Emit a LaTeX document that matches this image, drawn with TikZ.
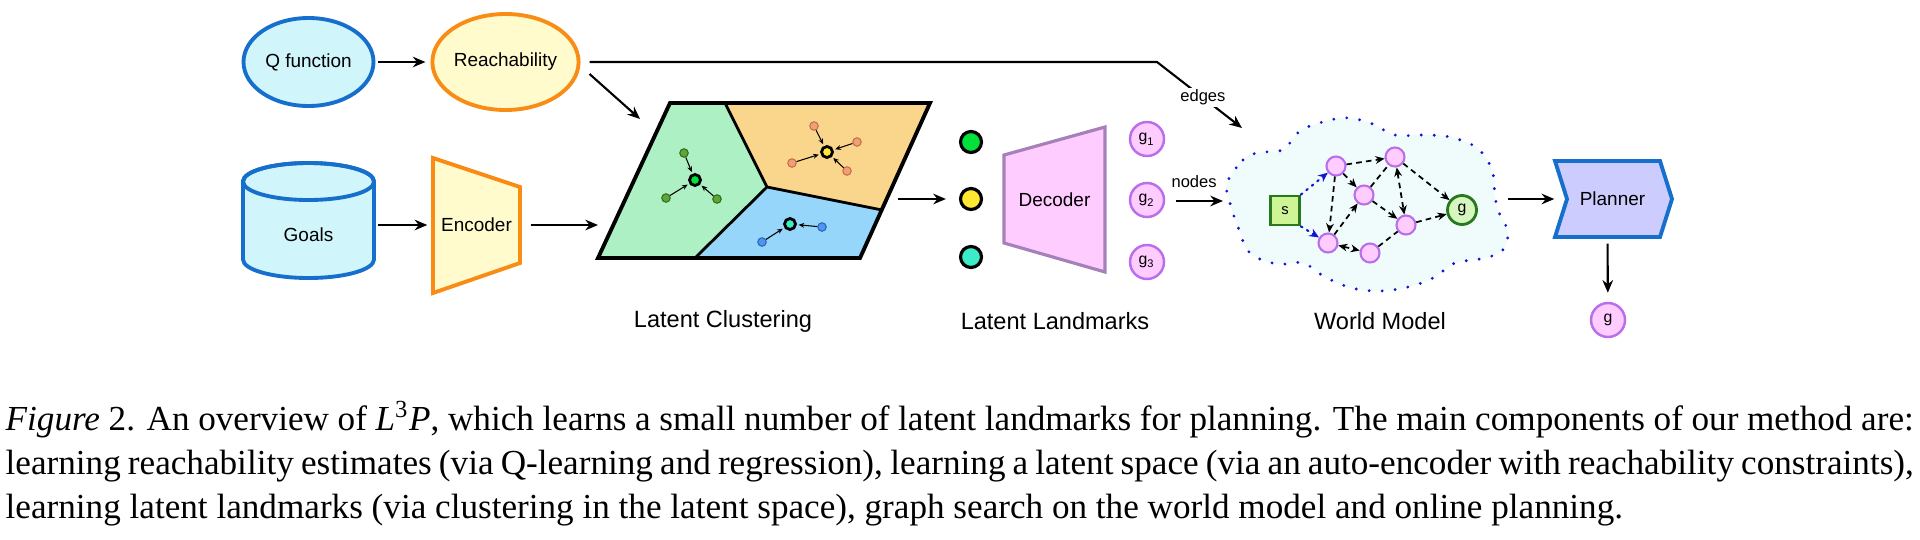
\documentclass[tikz,border=0pt]{standalone}
\usepackage{fontspec}
\setmainfont{Liberation Serif}
\setsansfont{Liberation Sans}
\usetikzlibrary{positioning, arrows.meta, shapes.geometric, calc}
\definecolor{qblue}{RGB}{22,110,205}
\definecolor{qfill}{RGB}{208,246,252}
\definecolor{rorange}{RGB}{248,140,20}
\definecolor{rfill}{RGB}{255,251,205}
\definecolor{dpurple}{RGB}{166,128,184}
\definecolor{gpink}{RGB}{255,204,255}
\definecolor{gviolet}{RGB}{185,110,235}
\definecolor{cgreen}{RGB}{172,240,196}
\definecolor{corange}{RGB}{250,214,140}
\definecolor{cblue}{RGB}{150,214,250}
\definecolor{pfill}{RGB}{204,204,255}
\definecolor{sfill}{RGB}{205,245,150}
\definecolor{gfill}{RGB}{215,245,190}
\definecolor{sgreen}{RGB}{40,120,30}
\definecolor{wmfill}{RGB}{240,252,252}
\definecolor{wmdot}{RGB}{20,20,210}
\definecolor{lmgreen}{RGB}{0,225,60}
\definecolor{lmyellow}{RGB}{255,232,50}
\definecolor{lmteal}{RGB}{60,235,200}

\begin{document}
\begin{tikzpicture}[>={Stealth[length=3.6pt, width=3pt]},
    lab/.style={font=\sffamily\fontsize{5.4}{6}\selectfont},
    title/.style={font=\sffamily\fontsize{6.7}{8}\selectfont},
    elabel/.style={font=\sffamily\fontsize{4.7}{5}\selectfont},
    arr/.style={->, line width=0.6pt},
    land/.style={circle, draw=black, line width=0.9pt, minimum size=0.21cm, inner sep=0pt},
    gnode/.style={circle, draw=gviolet, fill=gpink, line width=0.7pt, minimum size=0.34cm, inner sep=0pt, font=\sffamily\fontsize{4.5}{5}\selectfont},
    wnode/.style={circle, draw=gviolet, fill=gpink, line width=0.6pt, minimum size=0.19cm, inner sep=0pt},
    wedge/.style={->, >={Stealth[length=2.6pt, width=2.2pt]}, line width=0.5pt, dash pattern=on 1.6pt off 1.2pt},
    sedge/.style={->, >={Stealth[length=2.8pt, width=2.4pt]}, wmdot, line width=0.6pt, dash pattern=on 0.5pt off 1.5pt, line cap=round},
    ccen/.style={circle, draw=black, line width=0.8pt, minimum size=0.11cm, inner sep=0pt},
    cdot/.style={circle, line width=0.3pt, minimum size=0.085cm, inner sep=0pt},
    carr/.style={->, >={Stealth[length=1.6pt, width=1.4pt]}, line width=0.3pt, shorten >=0.5pt},
    capline/.style={anchor=base west, inner sep=0pt, font=\fontsize{10}{12.5}\selectfont}]
\useasboundingbox (0,0) rectangle (19.2,5.39);

\node[ellipse, draw=qblue, fill=qfill, line width=1.1pt, minimum width=1.30cm, minimum height=0.88cm, inner sep=0pt, lab] (qf) at (3.085,4.77) {Q function};
\node[ellipse, draw=rorange, fill=rfill, line width=1.1pt, minimum width=1.45cm, minimum height=0.96cm, inner sep=0pt, lab] (reach) at (5.055,4.77) {Reachability};
\draw[arr, shorten <=0.03cm, shorten >=0.05cm] (qf) -- (reach);

\draw[qblue, fill=qfill, line width=1.1pt] (2.43,3.575) -- (2.43,2.795) arc[start angle=180, end angle=360, x radius=0.655, y radius=0.185] -- (3.74,3.575) arc[start angle=0, end angle=180, x radius=0.655, y radius=0.185] -- cycle;
\draw[qblue, line width=1.1pt] (3.085,3.575) ellipse (0.655 and 0.185);
\node[minimum width=1.31cm, minimum height=1.15cm, inner sep=0pt] (goals) at (3.085,3.185) {};
\node[lab] (goalstxt) at (3.085,3.04) {Goals};

\draw[rorange, fill=rfill, line width=1.1pt, line join=miter] (4.33,3.81) -- (5.20,3.52) -- (5.20,2.76) -- (4.33,2.46) -- cycle;
\node[lab, minimum width=0.87cm, minimum height=1.35cm, inner sep=0pt] (enc) at (4.765,3.14) {Encoder};
\draw[arr, shorten <=0.03cm, shorten >=0.05cm] (goals.east |- enc.west) -- (enc.west);

\begin{scope}
    \fill[cgreen] (6.70,4.36) -- (7.25,4.36) -- (7.67,3.52) -- (6.95,2.81) -- (5.98,2.81) -- cycle;
    \fill[corange] (7.25,4.36) -- (9.30,4.36) -- (8.82,3.29) -- (7.67,3.52) -- cycle;
    \fill[cblue] (7.67,3.52) -- (8.82,3.29) -- (8.60,2.81) -- (6.95,2.81) -- cycle;
    \draw[line width=0.8pt] (7.25,4.36) -- (7.67,3.52) -- (8.82,3.29) (7.67,3.52) -- (6.95,2.81);
    \draw[line width=1.1pt, line join=miter] (6.70,4.36) -- (9.30,4.36) -- (8.60,2.81) -- (5.98,2.81) -- cycle;
    \node[ccen, fill=lmgreen] (cg) at (6.95,3.59) {};
    \foreach \p [count=\i] in {(6.84,3.86), (6.66,3.41), (7.17,3.40)} {
        \node[cdot, draw={rgb,255:red,50;green,110;blue,30}, fill={rgb,255:red,95;green,165;blue,55}] (cg\i) at \p {};
        \draw[carr] (cg\i) -- (cg);
    }
    \node[ccen, fill=lmyellow] (co) at (8.27,3.87) {};
    \foreach \p [count=\i] in {(8.14,4.13), (8.57,3.97), (7.92,3.76), (8.47,3.68)} {
        \node[cdot, draw={rgb,255:red,200;green,110;blue,70}, fill={rgb,255:red,240;green,160;blue,120}] (co\i) at \p {};
        \draw[carr] (co\i) -- (co);
    }
    \node[ccen, fill=lmteal] (cb) at (7.90,3.15) {};
    \foreach \p [count=\i] in {(8.22,3.12), (7.62,2.97)} {
        \node[cdot, draw={rgb,255:red,40;green,100;blue,190}, fill={rgb,255:red,80;green,150;blue,235}] (cb\i) at \p {};
        \draw[carr] (cb\i) -- (cb);
    }
\end{scope}
\coordinate (clustin) at (5.98,3.14);
\coordinate (clusttop) at (6.40,4.20);
\coordinate (clustout) at (8.98,3.40);
\draw[arr, shorten <=0.1cm] (enc.east) -- (clustin);
\draw[arr] ([shift={(0.09,-0.12)}]reach.east) -- (clusttop);
\node[title] (lclust) at (7.23,2.18) {Latent Clustering};

\node[land, fill=lmgreen] (lm1) at (9.71,3.97) {};
\node[land, fill=lmyellow] (lm2) at (9.71,3.40) {};
\node[land, fill=lmteal] (lm3) at (9.71,2.82) {};
\draw[arr, shorten >=0.13cm] (clustout) -- (lm2);

\draw[dpurple, fill=gpink, line width=0.9pt, line join=miter] (10.04,3.84) -- (11.05,4.12) -- (11.05,2.67) -- (10.04,2.96) -- cycle;
\node[lab, minimum width=1.01cm, minimum height=1.45cm, inner sep=0pt] (dec) at (10.545,3.395) {Decoder};
\node[gnode] (g1) at (11.47,4.00) {g\textsubscript{1}};
\node[gnode] (g2) at (11.47,3.39) {g\textsubscript{2}};
\node[gnode] (g3) at (11.47,2.77) {g\textsubscript{3}};
\node[title] (llm) at (10.55,2.18) {Latent Landmarks};

\draw[wmdot, fill=wmfill, line width=0.9pt, line cap=round, dash pattern=on 0pt off 3.7pt] plot[smooth cycle, tension=0.6] coordinates {
    (12.27,3.56) (12.43,3.79) (12.57,3.86) (12.83,3.89) (12.92,3.99) (13.05,4.11)
    (13.42,4.21) (13.70,4.16) (13.95,4.04) (14.22,4.04) (14.50,4.02) (14.77,3.91)
    (14.92,3.69) (14.95,3.42) (15.00,3.24) (15.08,3.07) (15.02,2.88) (14.80,2.80)
    (14.55,2.76) (14.33,2.61) (14.08,2.52) (13.80,2.48) (13.52,2.51) (13.25,2.62)
    (13.03,2.76) (12.77,2.75) (12.50,2.86) (12.38,3.12) (12.30,3.36)};
\node[draw=sgreen, fill=sfill, line width=0.8pt, minimum size=0.29cm, inner sep=0pt, font=\sffamily\fontsize{4.2}{5}\selectfont] (ws) at (12.85,3.285) {s};
\node[wnode] (n1) at (13.36,3.73) {};
\node[wnode] (n2) at (13.95,3.82) {};
\node[wnode] (n3) at (13.64,3.44) {};
\node[wnode] (n4) at (14.06,3.14) {};
\node[wnode] (n5) at (13.28,2.96) {};
\node[wnode] (n6) at (13.70,2.86) {};
\node[circle, draw=sgreen, fill=gfill, line width=0.8pt, minimum size=0.29cm, inner sep=0pt, font=\sffamily\fontsize{4.5}{5}\selectfont] (wg) at (14.62,3.29) {g};
\draw[sedge] (ws.north east) -- (n1);
\draw[sedge] (ws.south east) -- (n5);
\draw[wedge] (n1) -- (n2);
\draw[wedge] (n1) -- (n3);
\draw[wedge] (n1) -- (n5);
\draw[wedge] (n5) -- (n3);
\draw[wedge, -] (n3) -- (n2);
\draw[wedge, <->] (n2) -- (n4);
\draw[wedge] (n3) -- (n4);
\draw[wedge] (n2) -- (wg);
\draw[wedge] (n4) -- (wg);
\draw[wedge, -] (n6) -- (n4);
\draw[wedge, <->] (n5) -- (n6);
\node[title] (lwm) at (13.80,2.18) {World Model};

\coordinate (wmtop) at (12.42,4.11);
\coordinate (wmleft) at (12.23,3.38);
\coordinate (wmright) at (15.08,3.40);
\draw[arr] ([xshift=0.09cm]reach.east) -- (11.57,4.77) -- node[elabel, fill=white, inner sep=0.6pt, pos=0.54] (edgelab) {edges} (wmtop);
\draw[arr, shorten <=0.11cm] (g2.east |- wmleft) -- node[elabel, above=0.2pt] (nodelab) {nodes} (wmleft);

\draw[qblue, fill=pfill, line width=1.1pt, line join=miter] (15.55,3.78) -- (16.60,3.78) -- (16.72,3.40) -- (16.60,3.02) -- (15.55,3.02) -- (15.67,3.40) -- cycle;
\node[lab, minimum width=1.05cm, minimum height=0.76cm, inner sep=0pt] (plan) at (16.075,3.40) {\hspace{0.1cm}Planner};
\node[gnode] (gout) at (16.08,2.19) {g};
\draw[arr] (wmright) -- (plan.west);
\draw[arr, shorten <=0.06cm, shorten >=0.09cm] (plan.south) -- (gout);

\node[capline] (cap1) at (0.05,1.09) {\makebox[19.08cm][s]{\textit{Figure} 2. An overview of {\itshape L}\textsuperscript{3}{\itshape P}, which learns a small number of latent landmarks for planning. The main components of our method are:}};
\node[capline] (cap2) at (0.05,0.65) {\makebox[19.08cm][s]{learning reachability estimates (via Q-learning and regression), learning a latent space (via an auto-encoder with reachability constraints),}};
\node[capline] (cap3) at (0.05,0.21) {learning latent landmarks (via clustering in the latent space), graph search on the world model and online planning.};
\end{tikzpicture}
\end{document}
